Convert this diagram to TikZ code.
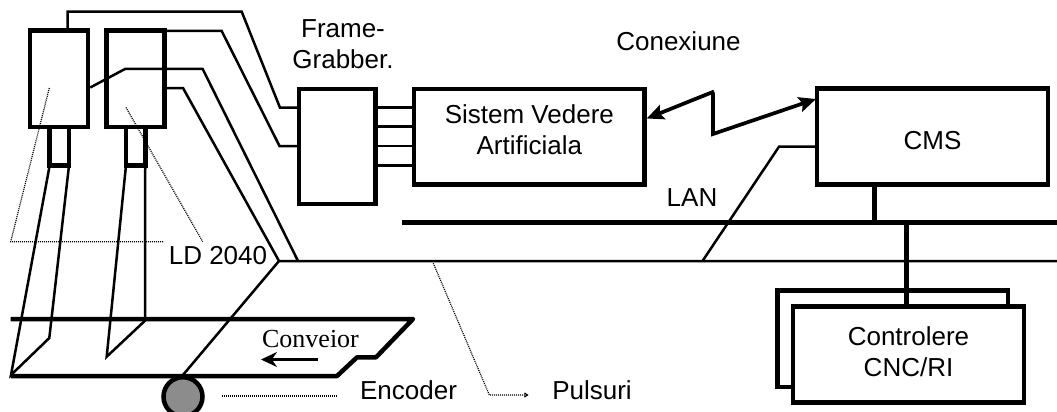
\documentclass[tikz,border=0pt]{standalone}
\usepackage{fontspec}
\setmainfont{Liberation Sans}
\newfontfamily\serifconv{Liberation Serif}
\usetikzlibrary{arrows.meta, positioning}

\begin{document}
\begin{tikzpicture}[
	x=1pt, y=-1pt,
	node distance=34pt,
	box_node/.style={rectangle, draw, line width=4.5pt, inner sep=0pt, align=center, font=\fontsize{26}{30.5}\selectfont},
	cam_node/.style={box_node, minimum width=58pt, minimum height=96.5pt},
	lens_node/.style={box_node, minimum width=19.5pt, minimum height=38.5pt},
	txt_node/.style={inner sep=0pt, anchor=base, align=center, font=\fontsize{26}{30.5}\selectfont},
	wire/.style={line width=2.5pt},
	bus/.style={line width=5pt},
	hint/.style={line width=1.2pt, dash pattern=on 1pt off 1pt},
	link_line/.style={line width=3.7pt},
	link_tip/.style={{Stealth[length=17pt,width=15pt,inset=3pt]}-}
	]
	\useasboundingbox (0,0) rectangle (1057,412);
	
	% --- camere
	\node[cam_node] (C1) at (59,78.75) {};
	\node[cam_node] (C2) at (135.5,78.75) {};
	\node[lens_node] (L1) [below=-4.5pt of C1] {};
	\node[lens_node] (L2) [below=-4.5pt of C2] {};
	
	% --- blocuri
	\node[box_node, minimum width=76.5pt, minimum height=115pt] (FG) at (337.25,146.5) {};
	\node[box_node, minimum width=230.7pt, minimum height=95.5pt, text depth=14.5pt] (SVA) at (529.35,136.75) {Sistem Vedere\\Artificiala};
	\node[box_node, minimum width=231pt, minimum height=96pt, text height=25pt, text depth=0pt] (CMS) at (932.5,136.5) {CMS};
	\node[box_node, minimum width=230.5pt, minimum height=96.5pt] (B) at (892.75,338.75) {};
	\node[box_node, fill=white, minimum width=231pt, minimum height=96pt, text depth=6pt] (CTRL) at (908.5,354.5) {Controlere\\CNC/RI};
	\node[circle, draw, line width=4.5pt, fill=black!45, minimum size=39pt, inner sep=0pt] (ENC) at (183,396.7) {};
	
	% --- texte
	\node[txt_node] (FGT) at (343,68) {Frame-\\Grabber.};
	\node[txt_node] (CON) at (678.5,51) {Conexiune};
	\node[txt_node] (LAN) at (692,206.7) {LAN};
	\node[txt_node] (LD) at (218,264) {LD 2040};
	\node[txt_node] (ENCT) at (408.5,399) {Encoder};
	\node[txt_node] (PUL) at (592,399) {Pulsuri};
	\node[txt_node, font=\serifconv\fontsize{26}{30}\selectfont] (CONV) at (310.5,347) {Conveior};
	
	\coordinate (J) at (279,261);
	\coordinate (P) at (702.5,261);
	\coordinate (PE) at (1057,261);
	\coordinate (LA) at (402,222.3);
	\coordinate (LE) at (1057,222.3);
	\coordinate (W1) at (280,107.7);
	\coordinate (W2) at (279.5,146);
	\coordinate (Q) at (779,146.7);
	\coordinate (R1) at (11,375);
	\coordinate (R2) at (49.3,338);
	\coordinate (R3) at (106.7,356.7);
	\coordinate (R4) at (145,320.7);
	\coordinate (Z1) at (714,91.5);
	\coordinate (Z3) at (713,92.5);
	\coordinate (Z2) at (713,134);
	\coordinate (A1) at (646.7,118.5);
	\coordinate (A2) at (816,99);
	
	% --- fire camere
	\draw[wire] (C1.north -| 67.7,0) -- (67.7,11.7) -- (241.7,11.7) -- (W1) -- (W1 -| FG.west);
	\draw[wire] (164.5,31) -- (221.7,31) -- (W2) -- (W2 -| FG.west);
	\draw[wire] (C1.east |- 0,87.5) -- (125,69) -- (202.7,69) -- (298,261);
	\draw[wire] (164.5,88) -- (183,88) -- (J);
	\draw[wire] (ENC.north) -- (J) -- (PE);
	
	% --- frame grabber catre sistem
	\foreach \y in {107.7,126.7,146,165.3}
		\draw[wire] (FG.east |- 0,\y) -- (SVA.west |- 0,\y);
	
	\draw[link_line, link_tip] (A1) -- (Z1);
	\draw[link_line, link_tip] (A2) -- (Z2) -- (Z3);
	\draw[wire] (P) -- (Q) -- (Q -| CMS.west);
	
	% --- LAN
	\draw[bus] (LA) -- (LE);
	\draw[line width=4.5pt] (CMS.south -| 874.7,0) -- (874.7,222.3);
	\draw[line width=4.5pt] (906.7,222.3) -- (906.7,304.5);
	
	% --- raze
	\draw[wire] ([xshift=2.25pt]L1.south west) -- (R1) -- (R2) -- ([xshift=-2.25pt]L1.south east);
	\draw[wire] ([xshift=2.25pt]L2.south west) -- (R3) -- (R4) -- ([xshift=-2.25pt]L2.south east);
	
	% --- conveior
	\draw[line width=4.5pt, line join=round] (10.7,319) -- (413,319) -- (376,357.3) -- (357,357.3) -- (337,376) -- (10.7,376);
	\draw[{Stealth[length=16pt,width=15pt]}-, line width=2.5pt] (261,359.5) -- (318,359.5);
	
	% --- linii punctate
	\draw[hint] (49.3,88) -- (10.7,241.7) -- (163,241.7);
	\draw[hint] (126,107.5) -- (202.7,241.7);
	\draw[hint] (221.7,396) -- (337.3,396);
	\draw[hint, -{Straight Barb[length=3pt,width=4pt]}] (433.3,263.3) -- (489.3,395) -- (528.5,395);
	
\end{tikzpicture}
\end{document}
